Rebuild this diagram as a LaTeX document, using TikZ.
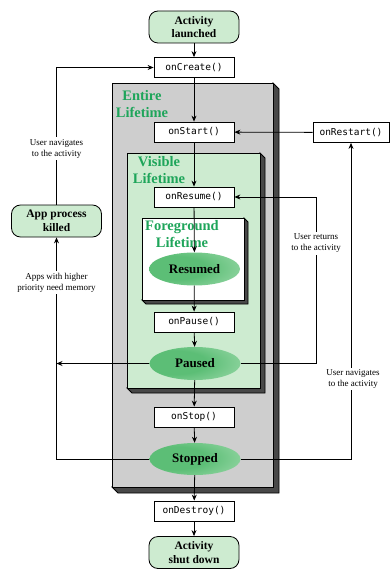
\documentclass[tikz,border=0pt]{standalone}
\usepackage{fontspec}
\setmainfont{Liberation Serif}
\setmonofont{DejaVu Sans Mono}
\usetikzlibrary{arrows.meta,shapes.geometric}

\definecolor{lightgreen}{RGB}{205,235,208}
\definecolor{zonegreen}{RGB}{30,165,90}
\definecolor{boxgray}{RGB}{206,206,206}
\definecolor{shadowgray}{RGB}{72,72,72}
\definecolor{stateinner}{RGB}{92,190,118}
\definecolor{statemid}{RGB}{150,215,165}
\definecolor{stateouter}{RGB}{228,246,231}

% Glow that is strongest left of centre and fades to the right
\pgfdeclareradialshading{stateglow}{\pgfpoint{-14bp}{2bp}}{%
  color(0bp)=(stateinner); color(18bp)=(stateinner);
  color(40bp)=(statemid); color(64bp)=(stateouter); color(100bp)=(stateouter)}

\tikzset{
  fn/.style={draw, fill=white, line width=0.8pt, minimum width=80pt, minimum height=20pt,
    inner sep=0pt, font=\ttfamily\fontsize{9.5}{11}\selectfont},
  term/.style={draw, fill=lightgreen, line width=0.8pt, rounded corners=9pt,
    minimum width=90pt, minimum height=32pt, inner sep=0pt, align=center,
    font=\bfseries\fontsize{11.5}{13.5}\selectfont},
  state/.style={ellipse, minimum width=91pt, minimum height=33pt, inner sep=0pt,
    shading=stateglow, font=\bfseries\fontsize{13}{15}\selectfont},
  note/.style={fill=white, align=center, inner sep=2pt,
    font=\fontsize{9}{11}\selectfont},
  zone/.style={text=zonegreen, align=center,
    font=\bfseries\fontsize{14.5}{17.5}\selectfont},
  flow/.style={-{Stealth[length=6pt,width=5pt]}, line width=0.8pt},
  frame/.style={line width=0.8pt}
}

\begin{document}
\begin{tikzpicture}[x=1pt,y=-1pt]
\useasboundingbox (0,0) rectangle (389,569);

% Entire lifetime block with its extruded edge
\draw[frame, fill=shadowgray] (273,83) -- (279,89) -- (279,493) -- (118,493) -- (112,487) -- (273,487) -- cycle;
\draw[frame, fill=boxgray] (112,83) rectangle (273,487);

% Visible lifetime block
\draw[frame, fill=shadowgray] (260,153) -- (265,158) -- (265,393) -- (132,393) -- (127,388) -- (260,388) -- cycle;
\draw[frame, fill=lightgreen] (127,153) rectangle (260,388);

% Foreground lifetime block
\draw[frame, fill=shadowgray] (244,218) -- (248,222) -- (248,304) -- (146,304) -- (142,300) -- (244,300) -- cycle;
\draw[frame, fill=white] (142,218) rectangle (244,300);

% Block titles
\node[zone] (tentire) at (142,104) {Entire\\Lifetime};
\node[zone] (tvisible) at (159,170) {Visible\\Lifetime};
\node[zone] (tfore) at (182,234) {Foreground\\Lifetime};

% Main column
\node[term] (launched) at (194,27) {Activity\\launched};
\node[fn] (create) at (194,67.5) {onCreate()};
\node[fn] (start) at (194,132) {onStart()};
\node[fn, minimum width=76pt] (restart) at (351,132.5) {onRestart()};
\node[fn] (resume) at (194,197) {onResume()};
\node[state] (resumed) at (194.5,269) {Resumed};
\node[fn] (pause) at (194,322) {onPause()};
\node[state] (paused) at (195,363.5) {Paused};
\node[fn] (stop) at (194,417) {onStop()};
\node[state, minimum height=32pt] (stopped) at (195,459) {Stopped};
\node[fn] (destroy) at (194,511) {onDestroy()};
\node[term] (shutdown) at (194,552.5) {Activity\\shut down};
\node[term] (killed) at (56.5,221) {App process\\killed};

% Turning points of the side loops
\coordinate (kTop) at (56.5,67.5);
\coordinate (pLeft) at (56.5,363.5);
\coordinate (sLeft) at (56.5,459);
\coordinate (pRight) at (316,363.5);
\coordinate (rTurn) at (316,197);
\coordinate (sRight) at (351,459);

% Main flow
\draw[flow] (launched) -- (create);
\draw[flow] (create) -- (start);
\draw[flow] (start) -- (resume);
\draw[flow] (resume) -- (resumed);
\draw[flow] (resumed) -- (pause);
\draw[flow] (pause) -- (paused);
\draw[flow] (paused) -- (stop);
\draw[flow] (stop) -- (stopped);
\draw[flow] (stopped) -- (destroy);
\draw[flow] (destroy) -- (shutdown);

% Side loops
\draw[flow] (restart) -- (start);
\draw[flow] (paused) -- (pLeft);
\draw[flow] (stopped) -- (sLeft) -- (killed);
\draw[flow] (killed) -- (kTop) -- (create);
\draw[flow] (paused) -- (pRight) -- (rTurn) -- (resume);
\draw[flow] (stopped) -- (sRight) -- (restart);

% Loop labels
\node[note] (nKilledBack) at (56.5,148.5) {User navigates\\to the activity};
\node[note] (nMemory) at (56.5,282.5) {Apps with higher\\priority need memory};
\node[note] (nReturn) at (316,243.5) {User returns\\to the activity};
\node[note] (nRestart) at (353,379) {User navigates\\to the activity};
\end{tikzpicture}
\end{document}
